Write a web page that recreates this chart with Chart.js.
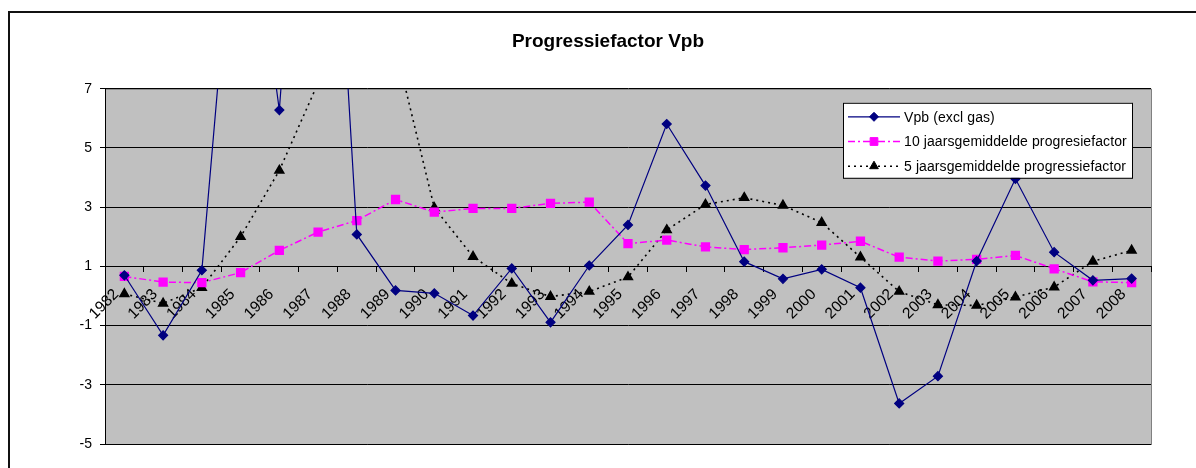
<!DOCTYPE html>
<html>
<head>
<meta charset="utf-8">
<script src="https://cdn.jsdelivr.net/npm/chart.js@4"></script>
<style>
  html, body { margin: 0; padding: 0; background: #fff; overflow: hidden; }
  #frame { position: absolute; left: 8px; top: 11px; width: 1300px; height: 600px; border: 2px solid #111; }
  #wrap { position: absolute; left: 0; top: 0; width: 1196px; height: 468px; }
</style>
</head>
<body>
<div id="frame"></div>
<div id="wrap"><canvas id="progChart" width="1196" height="468"></canvas></div>
<script>
const years = ['1982', '1983', '1984', '1985', '1986', '1987', '1988', '1989', '1990', '1991',
  '1992', '1993', '1994', '1995', '1996', '1997', '1998', '1999', '2000', '2001',
  '2002', '2003', '2004', '2005', '2006', '2007', '2008'];

const vpbExclGas = [0.70, -1.33, 0.87, 16.0, 6.28, 24.0, 2.08, 0.19, 0.09, -0.66,
  0.93, -0.89, 1.03, 2.40, 5.81, 3.73, 1.16, 0.58, 0.90, 0.28,
  -3.63, -2.71, 1.18, 3.96, 1.48, 0.53, 0.59];

const avg10 = [0.66, 0.47, 0.45, 0.79, 1.54, 2.16, 2.55, 3.26, 2.83, 2.96,
  2.96, 3.13, 3.17, 1.77, 1.89, 1.66, 1.57, 1.63, 1.72, 1.85,
  1.31, 1.18, 1.24, 1.37, 0.92, 0.48, 0.45];

const avg5 = [0.07, -0.25, 0.28, 2.0, 4.24, 7.2, 9.5, 8.4, 2.98, 1.33,
  0.42, -0.02, 0.15, 0.64, 2.23, 3.09, 3.32, 3.06, 2.48, 1.31,
  0.15, -0.30, -0.32, -0.04, 0.30, 1.17, 1.54];

const yTicks = { min: -5, max: 7, step: 2 };

const FONT = '"Liberation Sans", Arial, sans-serif';

// grey plot area with thin border, like a spreadsheet chart
const plotBackground = {
  id: 'plotBackground',
  beforeDraw(chart) {
    const { ctx, chartArea: a } = chart;
    ctx.save();
    ctx.fillStyle = '#c0c0c0';
    ctx.fillRect(a.left, a.top, a.right - a.left, a.bottom - a.top);
    ctx.strokeStyle = '#808080';
    ctx.lineWidth = 1;
    ctx.strokeRect(a.left + 0.5, a.top + 0.5, a.right - a.left, a.bottom - a.top);
    ctx.restore();
  }
};

// boxed legend in the upper right of the plot, line sample with marker
const boxedLegend = {
  id: 'boxedLegend',
  afterDraw(chart) {
    const { ctx, chartArea: a } = chart;
    const x = a.right - 308, y = a.top + 14, w = 289, h = 75;
    ctx.save();
    ctx.fillStyle = '#fff';
    ctx.fillRect(x, y, w, h);
    ctx.strokeStyle = '#000';
    ctx.lineWidth = 1;
    ctx.strokeRect(x + 0.5, y + 0.5, w, h);
    chart.data.datasets.forEach((ds, i) => {
      const cy = y + 14 + i * 24.7;
      ctx.save();
      ctx.strokeStyle = ds.borderColor;
      ctx.lineWidth = ds.borderWidth;
      ctx.setLineDash(ds.borderDash || []);
      ctx.beginPath();
      ctx.moveTo(x + 5, cy);
      ctx.lineTo(x + 57, cy);
      ctx.stroke();
      ctx.restore();
      ctx.fillStyle = ds.pointBackgroundColor;
      ctx.strokeStyle = ds.pointBorderColor;
      Chart.helpers.drawPoint(ctx, { pointStyle: ds.pointStyle, radius: ds.pointRadius, borderWidth: 1 }, x + 31, cy);
      ctx.fillStyle = '#000';
      ctx.font = '14px ' + FONT;
      ctx.letterSpacing = '0.1px';
      ctx.textBaseline = 'middle';
      ctx.fillText(ds.label, x + 61, cy + 1);
    });
    ctx.restore();
  }
};

new Chart(document.getElementById('progChart'), {
  type: 'line',
  data: {
    labels: years,
    datasets: [
      {
        label: 'Vpb (excl gas)',
        data: vpbExclGas,
        borderColor: '#000080',
        backgroundColor: '#000080',
        pointBackgroundColor: '#000080',
        pointBorderColor: '#000080',
        pointStyle: 'rectRot',
        pointRadius: 4.5,
        borderWidth: 1.2,
        tension: 0
      },
      {
        label: '10 jaarsgemiddelde progresiefactor',
        data: avg10,
        borderColor: '#ff00ff',
        backgroundColor: '#ff00ff',
        pointBackgroundColor: '#ff00ff',
        pointBorderColor: '#ff00ff',
        pointStyle: 'rect',
        pointRadius: 5.5,
        borderWidth: 1.5,
        borderDash: [7, 3, 2, 3],
        tension: 0
      },
      {
        label: '5 jaarsgemiddelde progressiefactor',
        data: avg5,
        borderColor: '#000000',
        backgroundColor: '#000000',
        pointBackgroundColor: '#000000',
        pointBorderColor: '#000000',
        pointStyle: 'triangle',
        pointRadius: 5,
        borderWidth: 1.6,
        borderDash: [2, 4],
        tension: 0
      }
    ]
  },
  options: {
    responsive: false,
    animation: false,
    layout: { padding: { left: 65, right: 45, top: 0, bottom: 24 } },
    plugins: {
      legend: { display: false },
      tooltip: { enabled: false },
      title: {
        display: true,
        text: 'Progressiefactor Vpb',
        color: '#000',
        font: { family: FONT, size: 19, weight: 'bold', lineHeight: 1.2 },
        padding: { top: 30, bottom: 36 }
      }
    },
    scales: {
      x: {
        type: 'category',
        offset: true,
        position: { y: 1 },
        grid: { display: true, drawOnChartArea: false, offset: true, tickLength: 5, color: '#000' },
        border: { display: true, color: '#000' },
        ticks: {
          autoSkip: false,
          minRotation: 45,
          maxRotation: 45,
          color: '#000',
          padding: 14,
          labelOffset: -8,
          font: { family: FONT, size: 15.5 }
        }
      },
      y: {
        min: yTicks.min,
        max: yTicks.max,
        afterFit(scale) { scale.width = 40; },
        grid: { color: '#000', lineWidth: 1, tickLength: 5 },
        border: { display: true, color: '#000' },
        ticks: {
          stepSize: yTicks.step,
          color: '#000',
          padding: 8,
          font: { family: FONT, size: 14 }
        }
      }
    }
  },
  plugins: [plotBackground, boxedLegend]
});
</script>
</body>
</html>
